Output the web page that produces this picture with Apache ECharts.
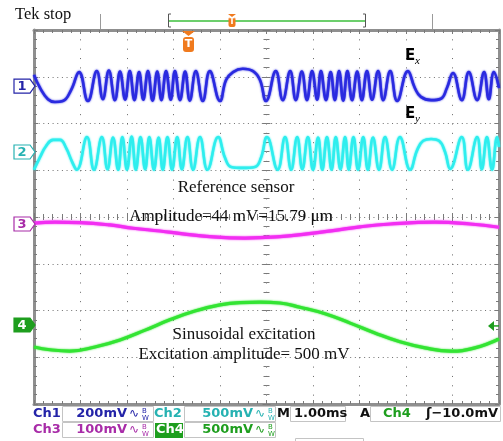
<!DOCTYPE html>
<html>
<head>
<meta charset="utf-8">
<script src="https://cdn.jsdelivr.net/npm/echarts@6/dist/echarts.min.js"></script>
<style>
html,body{margin:0;padding:0;background:#fff;}
#scope{width:503px;height:441px;}
</style>
</head>
<body>
<div id="scope"></div>
<script>
// time in ms (1.00 ms/div), level in screen divisions from centre
var ch1 = [
  [0, 3.04], [0.13, 2.76], [0.30, 2.52], [0.45, 2.46], [0.62, 2.48], [0.80, 2.72],
  [0.97, 3.10], [1.16, 2.48], [1.35, 3.12], [1.48, 2.52], [1.61, 3.13], [1.74, 2.50],
  [1.85, 3.11], [1.96, 2.51], [2.06, 3.12], [2.16, 2.50], [2.26, 3.10], [2.35, 2.51],
  [2.45, 3.12], [2.55, 2.49], [2.65, 3.11], [2.74, 2.50], [2.84, 3.12], [2.94, 2.51],
  [3.03, 3.12], [3.14, 2.50], [3.25, 3.11], [3.35, 2.49], [3.48, 3.12], [3.63, 2.48],
  [3.78, 3.12], [4.00, 2.48],
  [4.13, 2.93], [4.28, 3.10], [4.49, 3.17], [4.71, 3.12], [4.86, 2.93],
  [4.99, 2.48], [5.20, 3.12], [5.35, 2.50], [5.51, 3.12], [5.63, 2.50], [5.76, 3.11],
  [5.87, 2.50], [5.98, 3.12], [6.09, 2.51], [6.17, 3.12], [6.28, 2.50], [6.38, 3.10],
  [6.47, 2.50], [6.56, 3.12], [6.65, 2.49], [6.74, 3.12], [6.84, 2.50], [6.95, 3.11],
  [7.05, 2.50], [7.16, 3.12], [7.27, 2.51], [7.40, 3.12], [7.51, 2.50], [7.66, 3.12],
  [7.81, 2.48], [8.04, 3.12],
  [8.19, 2.76], [8.32, 2.57], [8.54, 2.50], [8.75, 2.53], [8.88, 2.76],
  [9.01, 3.08], [9.20, 2.50], [9.35, 3.10], [9.53, 2.50], [9.68, 3.10], [9.78, 2.52],
  [9.89, 3.10], [10, 2.76]
];
var ch2 = [
  [0, 1.01], [0.13, 1.28], [0.26, 1.52], [0.41, 1.65], [0.56, 1.65], [0.69, 1.48], [0.82, 1.18],
  [0.92, 1.01], [1.14, 1.71], [1.29, 1.01], [1.46, 1.71], [1.58, 1.02], [1.70, 1.70],
  [1.81, 1.01], [1.90, 1.71], [2.00, 1.01], [2.10, 1.72], [2.19, 1.01], [2.29, 1.71],
  [2.39, 1.02], [2.48, 1.71], [2.58, 1.01], [2.68, 1.70], [2.77, 1.01], [2.87, 1.71],
  [2.97, 1.01], [3.08, 1.71], [3.18, 1.02], [3.30, 1.71], [3.42, 1.01], [3.57, 1.71],
  [3.73, 1.01], [3.96, 1.71],
  [4.11, 1.26], [4.24, 1.07], [4.49, 1.05], [4.75, 1.07], [4.88, 1.26],
  [5.01, 1.71], [5.24, 1.01], [5.40, 1.71], [5.53, 1.01], [5.66, 1.71], [5.77, 1.02],
  [5.89, 1.71], [6.00, 1.01], [6.11, 1.70], [6.20, 1.01], [6.30, 1.71], [6.40, 1.01],
  [6.49, 1.71], [6.59, 1.02], [6.69, 1.71], [6.77, 1.01], [6.87, 1.71], [6.97, 1.01],
  [7.08, 1.71], [7.18, 1.01], [7.29, 1.70], [7.42, 1.01], [7.55, 1.71], [7.70, 1.01],
  [7.87, 1.71], [8.09, 1.01],
  [8.24, 1.43], [8.37, 1.63], [8.54, 1.67], [8.71, 1.63], [8.84, 1.39],
  [8.95, 1.03], [9.20, 1.71], [9.33, 1.01], [9.53, 1.71], [9.63, 1.02], [9.74, 1.71],
  [9.85, 1.01], [9.96, 1.71], [10, 1.50]
];
var ch3 = [
  [0, -0.13], [0.45, -0.11], [0.99, -0.12], [1.63, -0.17], [2.13, -0.24], [2.71, -0.30],
  [3.20, -0.36], [3.78, -0.42], [4.54, -0.45], [5.29, -0.42], [5.87, -0.36], [6.43, -0.29],
  [7.01, -0.21], [7.66, -0.15], [8.62, -0.11], [9.38, -0.15], [10, -0.22]
];
var ch4 = [
  [0, -2.78], [0.34, -2.84], [0.77, -2.87], [1.31, -2.78], [1.85, -2.63], [2.39, -2.42],
  [2.92, -2.20], [3.46, -2.01], [4.00, -1.88], [4.43, -1.83], [4.86, -1.82], [5.29, -1.84],
  [5.72, -1.93], [6.26, -2.07], [6.80, -2.27], [7.33, -2.48], [7.87, -2.67], [8.41, -2.80],
  [8.95, -2.87], [9.48, -2.80], [10, -2.61]
];
var groundDiv = [2.80, 1.39, -0.15, -2.31];   // channel ground markers
var triggerDiv = -2.33;                        // trigger level arrow (Ch4)
var chNames = ['1', '2', '3', '4'];
var scaleLabels = ['200mV', '500mV', '100mV', '500mV'];
var timeBase = '1.00ms';
var trigLevel = '\u0283\u221210.0mV';

var traceCol = ['#2a2ae0', '#2eeeee', '#f22ef2', '#33e433'];
var textCol = ['#2424a8', '#26b2b2', '#a82ca8', '#1e9e1e'];
var serif = 'Liberation Serif';
var sans = 'DejaVu Sans';

function axisBase(dim, pos, extra) {
  var a = {
    type: 'value', position: pos,
    min: dim === 'x' ? 0 : -4, max: dim === 'x' ? 10 : 4, interval: 1,
    axisLabel: {show: false},
    axisLine: {show: true, onZero: false, lineStyle: {color: '#8f8f8f', width: 3}},
    axisTick: {show: true, inside: true, length: 4, lineStyle: {color: '#7a7a7a'}},
    minorTick: {show: true, splitNumber: 5, length: 3, lineStyle: {color: '#7a7a7a'}},
    splitLine: {show: false}
  };
  return Object.assign(a, extra || {});
}
var noLine = {show: false, onZero: false};

var option = {
  animation: false,
  grid: {left: 34, right: 4, top: 30, bottom: 37},
  xAxis: [
    axisBase('x', 'bottom', {splitLine: {show: true, lineStyle: {color: '#666', width: 1, type: [1, 8.35]}}}),
    axisBase('x', 'top'),
    axisBase('x', 'bottom', {offset: -187, axisLine: noLine}),
    axisBase('x', 'bottom', {offset: -187, axisLine: noLine,
      axisTick: {show: true, inside: false, length: 4, lineStyle: {color: '#7a7a7a'}}})
  ],
  yAxis: [
    axisBase('y', 'left', {splitLine: {show: true, lineStyle: {color: '#707070', width: 1, type: [1, 3.65]}}}),
    axisBase('y', 'right'),
    axisBase('y', 'left', {offset: -232.5, axisLine: noLine}),
    axisBase('y', 'left', {offset: -232.5, axisLine: noLine,
      axisTick: {show: true, inside: false, length: 4, lineStyle: {color: '#7a7a7a'}}})
  ],
  series: [ch1, ch2, ch3, ch4].map(function (d, i) {
    return {
      type: 'line', data: d, xAxisIndex: 0, yAxisIndex: 0,
      smooth: 0.45, symbol: 'none', z: 5,
      lineStyle: {color: traceCol[i], width: i < 2 ? 2.6 : 3.2, shadowBlur: 2, shadowColor: traceCol[i]}
    };
  })
};

var chart = echarts.init(document.getElementById('scope'));
chart.setOption(option);

var g = [];
function txt(x, y, s, font, fill, align) {
  g.push({type: 'text', x: x, y: y, z: 100,
    style: {text: s, font: font, fill: fill, align: align || 'left', verticalAlign: 'middle'}});
}
function box(x, y, w, h, stroke, fill) {
  g.push({type: 'rect', z: 99, shape: {x: x, y: y, width: w, height: h},
    style: {stroke: stroke || '#c4c4c4', fill: fill || 'none', lineWidth: 1}});
}
function bw(x, y, col) {
  txt(x, y, '\u223f', '12px ' + sans, col);
  txt(x + 13, y - 3, 'B', '7px ' + sans, col);
  txt(x + 13, y + 4, 'W', '7px ' + sans, col);
}
var stat = 'bold 13px ' + sans;

// header
txt(15, 15, 'Tek stop', '16.5px ' + serif, '#111');
[100, 432].forEach(function (x) {
  g.push({type: 'line', z: 99, shape: {x1: x + 0.5, y1: 14, x2: x + 0.5, y2: 29}, style: {stroke: '#9a9a9a', lineWidth: 1}});
});
g.push({type: 'line', z: 99, shape: {x1: 168, y1: 21, x2: 366, y2: 21}, style: {stroke: '#3cbf3c', lineWidth: 1.5}});
g.push({type: 'polyline', z: 99, shape: {points: [[171, 14], [168.5, 14], [168.5, 27], [171, 27]]}, style: {stroke: '#555', lineWidth: 1, fill: 'none'}});
g.push({type: 'polyline', z: 99, shape: {points: [[363, 14], [365.5, 14], [365.5, 27], [363, 27]]}, style: {stroke: '#555', lineWidth: 1, fill: 'none'}});
g.push({type: 'polygon', z: 100, shape: {points: [[228, 14], [236, 14], [232, 17]]}, style: {fill: '#f07a1e'}});
g.push({type: 'rect', z: 100, shape: {x: 228.5, y: 17, width: 7, height: 10, r: 2}, style: {fill: '#f07a1e'}});
txt(232, 22, 'T', 'bold 8px ' + sans, '#fff', 'center');

// trigger position marker
g.push({type: 'polygon', z: 100, shape: {points: [[182, 31], [195, 31], [188.5, 36]]}, style: {fill: '#f07a1e'}});
g.push({type: 'rect', z: 100, shape: {x: 183, y: 37, width: 11, height: 15, r: 3}, style: {fill: '#f07a1e'}});
txt(188.5, 44.5, 'T', 'bold 11px ' + sans, '#fff', 'center');

// annotations
txt(405, 56, 'E', 'bold 15px ' + sans, '#000');
txt(415, 61, 'x', 'italic 11px ' + serif, '#000');
txt(405, 114, 'E', 'bold 15px ' + sans, '#000');
txt(415, 119, 'y', 'italic 11px ' + serif, '#000');
txt(236, 188, 'Reference sensor', '17px ' + serif, '#111', 'center');
txt(231, 217, 'Amplitude=44 mV=15.79 \u03bcm', '17px ' + serif, '#111', 'center');
txt(244, 335, 'Sinusoidal excitation', '17px ' + serif, '#111', 'center');
txt(244, 355, 'Excitation amplitude= 500 mV', '17px ' + serif, '#111', 'center');

// channel ground markers on the left
groundDiv.forEach(function (v, i) {
  var y = chart.convertToPixel({yAxisIndex: 0}, v);
  var filled = i === 3;
  g.push({type: 'polygon', z: 100,
    shape: {points: [[14, y - 7], [30, y - 7], [35, y], [30, y + 7], [14, y + 7]]},
    style: {fill: filled ? textCol[i] : '#fff', stroke: textCol[i], lineWidth: 1.2}});
  txt(22, y + 0.5, chNames[i], 'bold 13px ' + sans, filled ? '#fff' : textCol[i], 'center');
});
// trigger level arrow on the right
var ty = chart.convertToPixel({yAxisIndex: 0}, triggerDiv);
g.push({type: 'polygon', z: 100, shape: {points: [[488, ty], [494, ty - 5], [494, ty + 5]]}, style: {fill: textCol[3]}});
g.push({type: 'line', z: 100, shape: {x1: 494, y1: ty, x2: 499, y2: ty}, style: {stroke: textCol[3], lineWidth: 1.5}});

// status bar
var r1 = 414, r2 = 430;
txt(33, r1, 'Ch1', stat, textCol[0]);
box(62.5, 406.5, 91, 15);
txt(127, r1, scaleLabels[0], stat, textCol[0], 'right');
bw(129, r1, textCol[0]);
txt(154, r1, 'Ch2', stat, textCol[1]);
box(184.5, 406.5, 91, 15);
txt(253, r1, scaleLabels[1], stat, textCol[1], 'right');
bw(255, r1, textCol[1]);
txt(277, r1, 'M', stat, '#111');
box(290.5, 406.5, 55, 15);
txt(294, r1, timeBase, stat, '#111');
txt(360, r1, 'A', stat, '#111');
box(370.5, 406.5, 130, 15);
txt(383, r1, 'Ch4', stat, textCol[3]);
txt(498, r1, trigLevel, stat, '#111', 'right');

txt(33, r2, 'Ch3', stat, textCol[2]);
box(62.5, 422.5, 91, 15);
txt(127, r2, scaleLabels[2], stat, textCol[2], 'right');
bw(129, r2, textCol[2]);
g.push({type: 'rect', z: 99, shape: {x: 155, y: 423, width: 28, height: 15}, style: {fill: textCol[3]}});
txt(156, r2, 'Ch4', stat, '#fff');
box(184.5, 422.5, 91, 15);
txt(253, r2, scaleLabels[3], stat, textCol[3], 'right');
bw(255, r2, textCol[3]);
box(295.5, 438.5, 68, 8);

chart.setOption({graphic: g});
</script>
</body>
</html>
